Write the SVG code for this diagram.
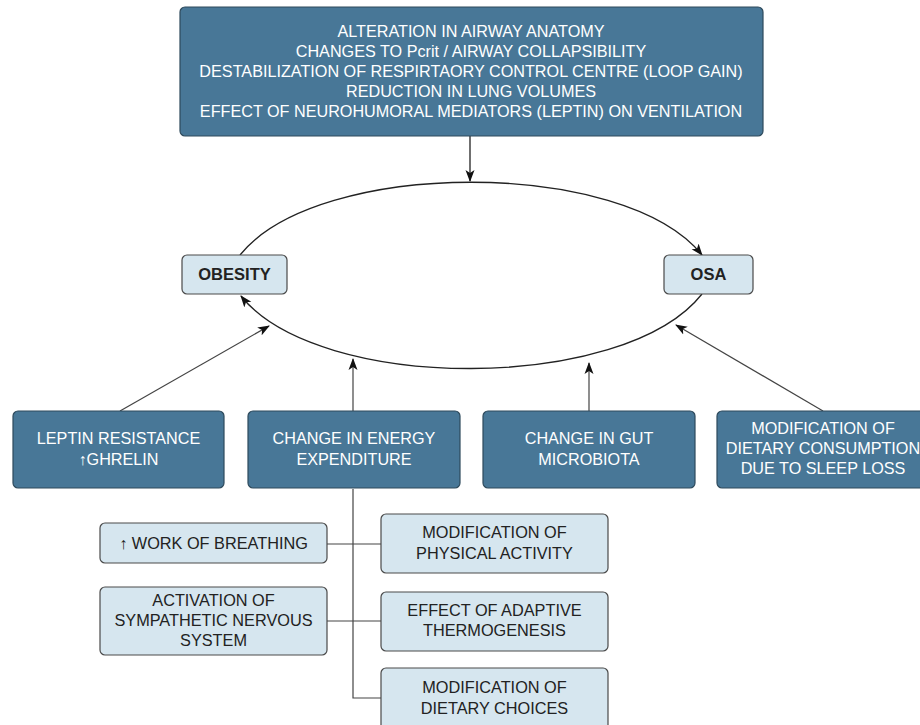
<svg xmlns="http://www.w3.org/2000/svg" width="920" height="725" viewBox="0 0 920 725">
<defs>
<marker id="ah" viewBox="0 0 12 10" refX="11" refY="5" markerWidth="12" markerHeight="10" markerUnits="userSpaceOnUse" orient="auto">
<path d="M0,0.5 L12,5 L0,9.5 L3,5 Z" fill="#111"/>
</marker>
<style>
.dark{fill:#487797;stroke:#2e4a5c;stroke-width:1.2}
.light{fill:#d6e6ef;stroke:#4a4a4a;stroke-width:1.2}
.wt{font-family:"Liberation Sans",Arial,sans-serif;font-size:16.2px;fill:#fff;text-anchor:middle}
.bt{font-family:"Liberation Sans",Arial,sans-serif;font-size:16.3px;fill:#222;text-anchor:middle}
.bold{font-weight:bold;font-size:16.5px}
.ln{fill:none;stroke:#222;stroke-width:1.3}
.ln2{fill:none;stroke:#444;stroke-width:1.2}
</style>
</defs>
<rect width="920" height="725" fill="#fff"/>

<g id="connectors">
<path class="ln" d="M470,136 L470,181" marker-end="url(#ah)"/>
<path class="ln" d="M240,255 C318,158 624,158 702,255" marker-end="url(#ah)"/>
<path class="ln" d="M702,294 C624,393 318,393 241,296" marker-end="url(#ah)"/>
<path class="ln2" d="M120,411 L269,326" marker-end="url(#ah)"/>
<path class="ln2" d="M353,411 L353,359" marker-end="url(#ah)"/>
<path class="ln2" d="M589,411 L589,363" marker-end="url(#ah)"/>
<path class="ln2" d="M823,411 L676,325" marker-end="url(#ah)"/>
<path class="ln2" d="M353,489 L353,698 L381,698"/>
<path class="ln2" d="M327,544 L381,544"/>
<path class="ln2" d="M327,621 L381,621"/>
</g>

<g id="top">
<rect class="dark" x="180" y="7" width="583" height="129" rx="5"/>
<text class="wt" x="471" y="37">ALTERATION IN AIRWAY ANATOMY</text>
<text class="wt" x="471" y="57">CHANGES TO Pcrit / AIRWAY COLLAPSIBILITY</text>
<text class="wt" x="471" y="77">DESTABILIZATION OF RESPIRTAORY CONTROL CENTRE (LOOP GAIN)</text>
<text class="wt" x="471" y="97">REDUCTION IN LUNG VOLUMES</text>
<text class="wt" x="471" y="117">EFFECT OF NEUROHUMORAL MEDIATORS (LEPTIN) ON VENTILATION</text>
</g>

<g id="obesity">
<rect class="light" x="182" y="255" width="105" height="39" rx="5"/>
<text class="bt bold" x="234.5" y="280">OBESITY</text>
</g>
<g id="osa">
<rect class="light" x="664" y="255" width="89" height="39" rx="5"/>
<text class="bt bold" x="708.5" y="280">OSA</text>
</g>

<g id="leptin">
<rect class="dark" x="13" y="411" width="211" height="77" rx="5"/>
<text class="wt" x="118.5" y="444">LEPTIN RESISTANCE</text>
<text class="wt" x="118.5" y="465">↑GHRELIN</text>
</g>
<g id="energy">
<rect class="dark" x="248" y="411" width="212" height="77" rx="5"/>
<text class="wt" x="354" y="444">CHANGE IN ENERGY</text>
<text class="wt" x="354" y="465">EXPENDITURE</text>
</g>
<g id="gut">
<rect class="dark" x="483" y="411" width="212" height="77" rx="5"/>
<text class="wt" x="589" y="444">CHANGE IN GUT</text>
<text class="wt" x="589" y="465">MICROBIOTA</text>
</g>
<g id="dietary-consumption">
<rect class="dark" x="717" y="411" width="212" height="77" rx="5"/>
<text class="wt" x="823" y="434">MODIFICATION OF</text>
<text class="wt" x="823" y="454">DIETARY CONSUMPTION</text>
<text class="wt" x="823" y="474">DUE TO SLEEP LOSS</text>
</g>

<g id="work-breathing">
<rect class="light" x="100" y="523" width="227" height="40" rx="5"/>
<text class="bt" x="213.5" y="549">↑ WORK OF BREATHING</text>
</g>
<g id="sympathetic">
<rect class="light" x="100" y="587" width="227" height="68" rx="5"/>
<text class="bt" x="213.5" y="606">ACTIVATION OF</text>
<text class="bt" x="213.5" y="626">SYMPATHETIC NERVOUS</text>
<text class="bt" x="213.5" y="646">SYSTEM</text>
</g>
<g id="physical-activity">
<rect class="light" x="381" y="514" width="227" height="59" rx="5"/>
<text class="bt" x="494.5" y="538">MODIFICATION OF</text>
<text class="bt" x="494.5" y="559">PHYSICAL ACTIVITY</text>
</g>
<g id="thermogenesis">
<rect class="light" x="381" y="592" width="227" height="59" rx="5"/>
<text class="bt" x="494.5" y="616">EFFECT OF ADAPTIVE</text>
<text class="bt" x="494.5" y="636">THERMOGENESIS</text>
</g>
<g id="dietary-choices">
<rect class="light" x="381" y="668" width="227" height="62" rx="5"/>
<text class="bt" x="494.5" y="693">MODIFICATION OF</text>
<text class="bt" x="494.5" y="714">DIETARY CHOICES</text>
</g>
</svg>
